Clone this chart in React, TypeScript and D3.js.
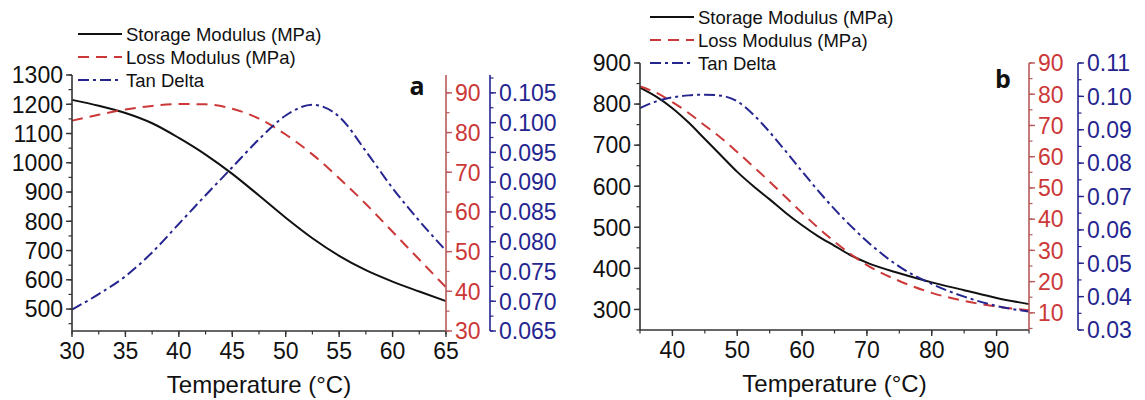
import React from 'react';
import * as d3 from 'd3';

// ---------- Panel a data ----------
const tempA = [30, 32.5, 35, 37.5, 40, 42.5, 45, 47.5, 50, 52.5, 55, 57.5, 60, 62.5, 65];
const storageA = [1215, 1195, 1170, 1135, 1085, 1028, 962, 888, 812, 742, 682, 633, 594, 560, 527];
const lossA = [83, 84.5, 85.8, 86.7, 87.2, 87.1, 86, 83.5, 79.5, 74.5, 68.5, 62, 55, 48, 41];
const tanA = [0.0686, 0.0712, 0.0742, 0.0782, 0.083, 0.0878, 0.0925, 0.0972, 0.1012, 0.103, 0.101, 0.0952, 0.089, 0.0835, 0.0785];

// ---------- Panel b data ----------
const tempB = [35, 37.5, 40, 42.5, 45, 47.5, 50, 52.5, 55, 57.5, 60, 62.5, 65, 67.5, 70, 75, 80, 85, 90, 95];
const storageB = [840, 818, 790, 755, 715, 675, 635, 600, 568, 535, 505, 478, 455, 432, 414, 388, 366, 347, 328, 313];
const lossB = [82.5, 80.5, 77.5, 74, 70, 66, 61.5, 56.8, 52, 47, 42, 37.2, 32.8, 28.8, 25.3, 20.2, 16.4, 13.8, 12.0, 10.8];
const tanB = [0.0965, 0.0985, 0.0997, 0.1003, 0.1005, 0.1002, 0.0985, 0.0945, 0.0893, 0.0835, 0.0775, 0.0717, 0.0662, 0.0612, 0.0566, 0.049, 0.0438, 0.04, 0.0372, 0.0355];

// ---------- Tick values ----------
const xTicksA = [30, 35, 40, 45, 50, 55, 60, 65];
const leftTicksA = [500, 600, 700, 800, 900, 1000, 1100, 1200, 1300];
const redTicksA = [30, 40, 50, 60, 70, 80, 90];
const blueTicksA = [0.065, 0.07, 0.075, 0.08, 0.085, 0.09, 0.095, 0.1, 0.105];

const xTicksB = [40, 50, 60, 70, 80, 90];
const leftTicksB = [300, 400, 500, 600, 700, 800, 900];
const redTicksB = [10, 20, 30, 40, 50, 60, 70, 80, 90];
const blueTicksB = [0.03, 0.04, 0.05, 0.06, 0.07, 0.08, 0.09, 0.1, 0.11];

const legendLabels = ['Storage Modulus (MPa)', 'Loss Modulus (MPa)', 'Tan Delta'];

const FONT = "'Liberation Sans', Arial, sans-serif";
const BLACK = '#111';
const RED = '#cc3838';
const RED_AXIS = '#b85a5a';
const BLUE = '#25258f';
const AXIS = '#333';
const DASH_RED = '11 7';
const DASH_BLUE = '11 4 3 4';

type VAxisProps = {
  scale: d3.ScaleLinear<number, number>;
  x: number;
  side: 'left' | 'right';
  major: number[];
  minorStep: number;
  lineColor: string;
  textColor: string;
  fmt: (v: number) => string;
};

function VAxis({ scale, x, side, major, minorStep, lineColor, textColor, fmt }: VAxisProps) {
  const [d0, d1] = scale.domain();
  const dir = side === 'left' ? -1 : 1;
  const minors: number[] = [];
  const start = Math.ceil(d0 / minorStep - 1e-9) * minorStep;
  for (let v = start; v <= d1 + 1e-9; v += minorStep) minors.push(+v.toFixed(6));
  const [r0, r1] = scale.range();
  return (
    <g>
      <line x1={x} x2={x} y1={r0} y2={r1} stroke={lineColor} strokeWidth={1.6} />
      {minors.map((v, i) => (
        <line key={'m' + i} x1={x} x2={x + dir * 3.5} y1={scale(v)} y2={scale(v)} stroke={lineColor} strokeWidth={1.2} />
      ))}
      {major.map((v, i) => (
        <g key={'M' + i}>
          <line x1={x} x2={x + dir * 6} y1={scale(v)} y2={scale(v)} stroke={lineColor} strokeWidth={1.4} />
          <text
            x={x + dir * 9}
            y={scale(v)}
            dy="0.36em"
            textAnchor={side === 'left' ? 'end' : 'start'}
            fill={textColor}
            fontSize={23}
            fontFamily={FONT}
          >
            {fmt(v)}
          </text>
        </g>
      ))}
    </g>
  );
}

type HAxisProps = {
  scale: d3.ScaleLinear<number, number>;
  y: number;
  major: number[];
  minorStep: number;
};

function HAxis({ scale, y, major, minorStep }: HAxisProps) {
  const [d0, d1] = scale.domain();
  const minors: number[] = [];
  for (let v = Math.ceil(d0 / minorStep) * minorStep; v <= d1 + 1e-9; v += minorStep) minors.push(v);
  const [r0, r1] = scale.range();
  return (
    <g>
      <line x1={r0} x2={r1} y1={y} y2={y} stroke={AXIS} strokeWidth={1.6} />
      {minors.map((v, i) => (
        <line key={'m' + i} x1={scale(v)} x2={scale(v)} y1={y} y2={y + 3.5} stroke={AXIS} strokeWidth={1.2} />
      ))}
      {major.map((v, i) => (
        <g key={'M' + i}>
          <line x1={scale(v)} x2={scale(v)} y1={y} y2={y + 6} stroke={AXIS} strokeWidth={1.4} />
          <text x={scale(v)} y={y + 28} textAnchor="middle" fill={BLACK} fontSize={23} fontFamily={FONT}>
            {v}
          </text>
        </g>
      ))}
    </g>
  );
}

type PanelProps = {
  x0: number; x1: number; yTop: number; yBot: number;
  xDomain: [number, number]; leftDomain: [number, number]; redDomain: [number, number]; blueDomain: [number, number];
  temps: number[]; storage: number[]; loss: number[]; tan: number[];
  xTicks: number[]; xMinor: number;
  leftTicks: number[]; leftMinor: number;
  redTicks: number[]; redMinor: number;
  blueTicks: number[]; blueMinor: number; blueFmt: (v: number) => string;
  blueGap: number;
  legendX: number; legendY: number;
  tag: string; tagX: number; tagY: number;
};

function Panel(p: PanelProps) {
  const x = d3.scaleLinear().domain(p.xDomain).range([p.x0, p.x1]);
  const yL = d3.scaleLinear().domain(p.leftDomain).range([p.yBot, p.yTop]);
  const yR = d3.scaleLinear().domain(p.redDomain).range([p.yBot, p.yTop]);
  const yB = d3.scaleLinear().domain(p.blueDomain).range([p.yBot, p.yTop]);
  const mk = (ys: number[], sc: d3.ScaleLinear<number, number>) =>
    d3.line<number>().x((_, i) => x(p.temps[i])).y((d) => sc(d)).curve(d3.curveMonotoneX)(ys) || '';
  const redX = p.x1;
  const blueX = p.x1 + p.blueGap;
  const legendStyles = [
    { stroke: BLACK, dash: undefined },
    { stroke: RED, dash: DASH_RED },
    { stroke: BLUE, dash: DASH_BLUE },
  ];
  return (
    <g>
      <path d={mk(p.storage, yL)} fill="none" stroke={BLACK} strokeWidth={2} />
      <path d={mk(p.loss, yR)} fill="none" stroke={RED} strokeWidth={2} strokeDasharray={DASH_RED} />
      <path d={mk(p.tan, yB)} fill="none" stroke={BLUE} strokeWidth={2} strokeDasharray={DASH_BLUE} />

      <VAxis scale={yL} x={p.x0} side="left" major={p.leftTicks} minorStep={p.leftMinor} lineColor={AXIS} textColor={BLACK} fmt={(v) => String(v)} />
      <HAxis scale={x} y={p.yBot} major={p.xTicks} minorStep={p.xMinor} />
      <VAxis scale={yR} x={redX} side="right" major={p.redTicks} minorStep={p.redMinor} lineColor={RED_AXIS} textColor={RED} fmt={(v) => String(v)} />
      <VAxis scale={yB} x={blueX} side="right" major={p.blueTicks} minorStep={p.blueMinor} lineColor={BLUE} textColor={BLUE} fmt={p.blueFmt} />

      <text x={(p.x0 + p.x1) / 2} y={p.yBot + 62} textAnchor="middle" fontSize={24} fontFamily={FONT} fill={BLACK}>
        Temperature (°C)
      </text>
      <text x={p.tagX} y={p.tagY} textAnchor="middle" fontSize={25} fontWeight="bold" fontFamily="'Open Sans', 'Liberation Sans', sans-serif" fill={BLACK}>
        {p.tag}
      </text>

      {legendLabels.map((lab, i) => (
        <g key={lab}>
          <line
            x1={p.legendX}
            x2={p.legendX + 44}
            y1={p.legendY + i * 23}
            y2={p.legendY + i * 23}
            stroke={legendStyles[i].stroke}
            strokeWidth={2}
            strokeDasharray={legendStyles[i].dash}
          />
          <text x={p.legendX + 48} y={p.legendY + i * 23} dy="0.36em" fontSize={18.5} fontFamily={FONT} fill={BLACK}>
            {lab}
          </text>
        </g>
      ))}
    </g>
  );
}

export default function App() {
  return (
    <svg width={1145} height={400} style={{ position: 'absolute', left: 0, top: 0, background: '#fff' }}>
      <rect width={1145} height={400} fill="#fff" />
      <Panel
        x0={72} x1={446} yTop={75} yBot={331}
        xDomain={[30, 65]} leftDomain={[425, 1300]} redDomain={[30, 94.5]} blueDomain={[0.065, 0.108]}
        temps={tempA} storage={storageA} loss={lossA} tan={tanA}
        xTicks={xTicksA} xMinor={2.5}
        leftTicks={leftTicksA} leftMinor={50}
        redTicks={redTicksA} redMinor={5}
        blueTicks={blueTicksA} blueMinor={0.0025} blueFmt={(v) => v.toFixed(3)}
        blueGap={44}
        legendX={78} legendY={34}
        tag="a" tagX={417} tagY={95}
      />
      <Panel
        x0={640} x1={1029} yTop={63} yBot={330}
        xDomain={[35, 95]} leftDomain={[250, 900]} redDomain={[4.5, 90]} blueDomain={[0.03, 0.11]}
        temps={tempB} storage={storageB} loss={lossB} tan={tanB}
        xTicks={xTicksB} xMinor={5}
        leftTicks={leftTicksB} leftMinor={50}
        redTicks={redTicksB} redMinor={5}
        blueTicks={blueTicksB} blueMinor={0.005} blueFmt={(v) => v.toFixed(2)}
        blueGap={49}
        legendX={650} legendY={17}
        tag="b" tagX={1003} tagY={88}
      />
    </svg>
  );
}
